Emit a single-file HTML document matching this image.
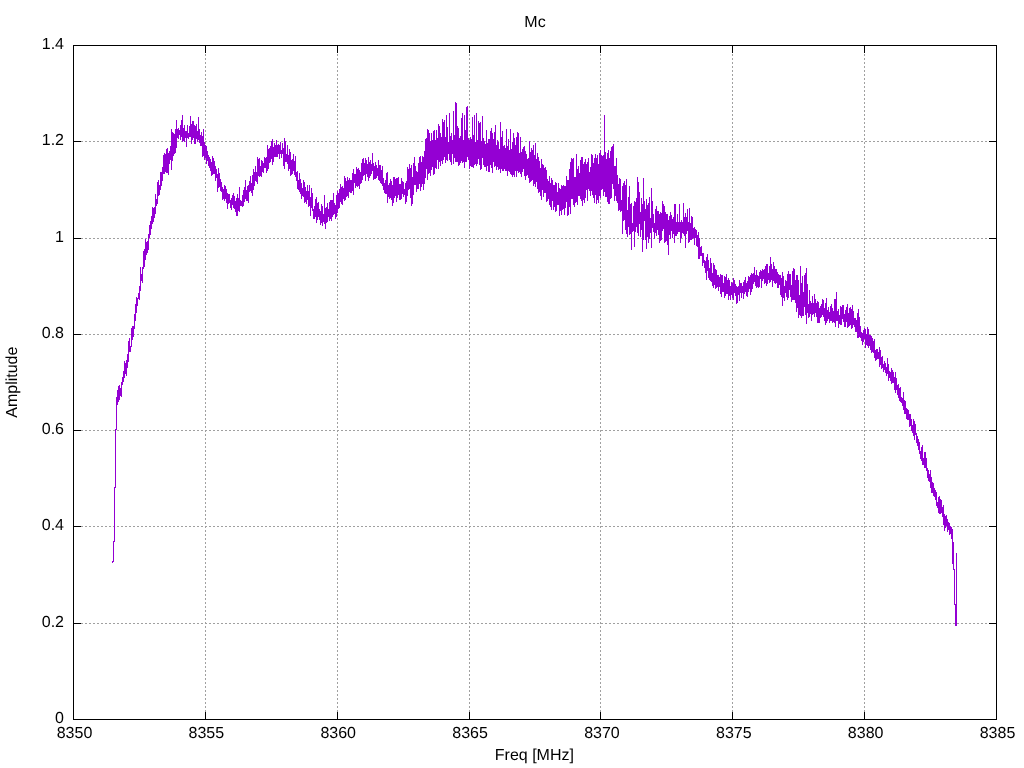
<!DOCTYPE html>
<html><head><meta charset="utf-8"><style>
html,body{margin:0;padding:0;background:#fff;}
svg{display:block;will-change:transform;}
text{font-family:"Liberation Sans",sans-serif;font-size:16px;fill:#000;text-rendering:geometricPrecision;}
.g{stroke:#a0a0a0;stroke-width:1;stroke-dasharray:2 2;}
.k{stroke:#000;stroke-width:1;}
</style></head><body>
<svg width="1024" height="768" viewBox="0 0 1024 768">
<line x1="205.5" y1="45" x2="205.5" y2="719" class="g" stroke-dashoffset="3"/>
<line x1="337.5" y1="45" x2="337.5" y2="719" class="g" stroke-dashoffset="3"/>
<line x1="469.5" y1="45" x2="469.5" y2="719" class="g" stroke-dashoffset="3"/>
<line x1="600.5" y1="45" x2="600.5" y2="719" class="g" stroke-dashoffset="3"/>
<line x1="732.5" y1="45" x2="732.5" y2="719" class="g" stroke-dashoffset="3"/>
<line x1="864.5" y1="45" x2="864.5" y2="719" class="g" stroke-dashoffset="3"/>
<line x1="73" y1="623.5" x2="996" y2="623.5" class="g"/>
<line x1="73" y1="526.5" x2="996" y2="526.5" class="g"/>
<line x1="73" y1="430.5" x2="996" y2="430.5" class="g"/>
<line x1="73" y1="334.5" x2="996" y2="334.5" class="g"/>
<line x1="73" y1="238.5" x2="996" y2="238.5" class="g"/>
<line x1="73" y1="141.5" x2="996" y2="141.5" class="g"/>
<line x1="205.5" y1="719" x2="205.5" y2="712" class="k"/>
<line x1="205.5" y1="45" x2="205.5" y2="53" class="k"/>
<line x1="337.5" y1="719" x2="337.5" y2="712" class="k"/>
<line x1="337.5" y1="45" x2="337.5" y2="53" class="k"/>
<line x1="469.5" y1="719" x2="469.5" y2="712" class="k"/>
<line x1="469.5" y1="45" x2="469.5" y2="53" class="k"/>
<line x1="600.5" y1="719" x2="600.5" y2="712" class="k"/>
<line x1="600.5" y1="45" x2="600.5" y2="53" class="k"/>
<line x1="732.5" y1="719" x2="732.5" y2="712" class="k"/>
<line x1="732.5" y1="45" x2="732.5" y2="53" class="k"/>
<line x1="864.5" y1="719" x2="864.5" y2="712" class="k"/>
<line x1="864.5" y1="45" x2="864.5" y2="53" class="k"/>
<line x1="73" y1="623.5" x2="81" y2="623.5" class="k"/>
<line x1="996" y1="623.5" x2="989" y2="623.5" class="k"/>
<line x1="73" y1="526.5" x2="81" y2="526.5" class="k"/>
<line x1="996" y1="526.5" x2="989" y2="526.5" class="k"/>
<line x1="73" y1="430.5" x2="81" y2="430.5" class="k"/>
<line x1="996" y1="430.5" x2="989" y2="430.5" class="k"/>
<line x1="73" y1="334.5" x2="81" y2="334.5" class="k"/>
<line x1="996" y1="334.5" x2="989" y2="334.5" class="k"/>
<line x1="73" y1="238.5" x2="81" y2="238.5" class="k"/>
<line x1="996" y1="238.5" x2="989" y2="238.5" class="k"/>
<line x1="73" y1="141.5" x2="81" y2="141.5" class="k"/>
<line x1="996" y1="141.5" x2="989" y2="141.5" class="k"/>
<rect x="73.5" y="45.5" width="923" height="674" class="k" fill="none"/>
<text x="64" y="723" text-anchor="end">0</text>
<text x="64" y="627" text-anchor="end">0.2</text>
<text x="64" y="530" text-anchor="end">0.4</text>
<text x="64" y="434" text-anchor="end">0.6</text>
<text x="64" y="338" text-anchor="end">0.8</text>
<text x="64" y="242" text-anchor="end">1</text>
<text x="64" y="145" text-anchor="end">1.2</text>
<text x="64" y="49" text-anchor="end">1.4</text>
<text x="74.5" y="738" text-anchor="middle">8350</text>
<text x="206.35714285714286" y="738" text-anchor="middle">8355</text>
<text x="338.2142857142857" y="738" text-anchor="middle">8360</text>
<text x="470.07142857142856" y="738" text-anchor="middle">8365</text>
<text x="601.9285714285714" y="738" text-anchor="middle">8370</text>
<text x="733.7857142857143" y="738" text-anchor="middle">8375</text>
<text x="865.6428571428571" y="738" text-anchor="middle">8380</text>
<text x="997.5" y="738" text-anchor="middle">8385</text>
<text x="535" y="27" text-anchor="middle">Mc</text>
<text x="534.4" y="760" text-anchor="middle">Freq [MHz]</text>
<text transform="translate(16.8,382.15) rotate(-90)" text-anchor="middle">Amplitude</text>
<path d="M112.50 563.0 112.50 561.0 113.50 561.0 113.50 541.0 114.50 541.0 114.50 487.0 115.50 487.0 115.50 429.0 116.50 429.0 116.50 397.0 117.00 401.5 117.17 405.4 117.33 397.6 117.50 394.8 117.67 390.5 117.83 395.4 118.00 402.2 118.17 398.8 118.33 401.6 118.50 397.8 118.67 398.4 118.83 397.3 119.00 385.8 119.17 400.2 119.33 398.6 119.50 398.4 119.67 385.9 119.83 385.6 120.00 390.7 120.17 392.4 120.33 395.7 120.50 393.2 120.67 395.0 120.83 387.8 121.00 392.4 121.17 392.0 121.33 385.0 121.50 396.8 121.67 390.4 121.83 392.7 122.00 381.8 122.17 380.1 122.33 381.8 122.50 382.4 122.67 385.0 122.83 382.1 123.00 377.1 123.17 373.0 123.33 374.6 123.50 381.9 123.67 371.0 123.83 375.6 124.00 375.2 124.17 365.1 124.33 373.2 124.50 378.1 124.67 361.3 124.83 370.5 125.00 371.5 125.17 367.2 125.33 373.7 125.50 371.0 125.67 362.7 125.83 374.4 126.00 373.5 126.17 374.5 126.33 376.4 126.50 371.6 126.67 369.3 126.83 359.6 127.00 369.1 127.17 361.2 127.33 361.0 127.50 354.3 127.67 355.0 127.83 356.6 128.00 365.5 128.17 344.3 128.33 347.3 128.50 356.8 128.67 360.9 128.83 355.9 129.00 341.7 129.17 337.6 129.33 351.5 129.50 345.4 129.67 342.9 129.83 351.5 130.00 351.5 130.17 347.5 130.33 347.3 130.50 347.5 130.67 351.5 130.83 347.2 131.00 346.3 131.17 345.9 131.33 334.5 131.50 346.9 131.67 344.5 131.83 341.8 132.00 328.4 132.17 334.4 132.33 339.7 132.50 326.4 132.67 333.6 132.83 337.1 133.00 325.8 133.17 337.0 133.33 332.1 133.50 328.3 133.67 329.1 133.83 329.1 134.00 326.1 134.17 328.7 134.33 320.2 134.50 320.3 134.67 325.0 134.83 319.9 135.00 313.7 135.17 320.3 135.33 320.9 135.50 311.1 135.67 304.2 135.83 309.8 136.00 308.1 136.17 306.3 136.33 313.1 136.50 300.0 136.67 310.6 136.83 296.6 137.00 298.5 137.17 305.0 137.33 306.2 137.50 304.0 137.67 300.8 137.83 299.0 138.00 298.2 138.17 299.2 138.33 294.8 138.50 296.2 138.67 296.6 138.83 293.3 139.00 295.8 139.17 294.1 139.33 299.5 139.50 291.4 139.67 286.6 139.83 285.9 140.00 287.0 140.17 290.1 140.33 283.0 140.50 285.6 140.67 290.9 140.83 266.6 141.00 274.1 141.17 280.8 141.33 280.4 141.50 278.7 141.67 274.1 141.83 278.4 142.00 275.7 142.17 270.4 142.33 282.9 142.50 273.0 142.67 267.2 142.83 269.0 143.00 267.3 143.17 267.3 143.33 250.6 143.50 262.9 143.67 269.3 143.83 257.0 144.00 262.6 144.17 266.2 144.33 264.9 144.50 266.7 144.67 249.2 144.83 256.3 145.00 255.4 145.17 259.3 145.33 260.4 145.50 238.8 145.67 258.6 145.83 244.4 146.00 255.0 146.17 242.3 146.33 251.0 146.50 254.5 146.67 247.6 146.83 248.4 147.00 250.1 147.17 246.4 147.33 244.3 147.50 250.6 147.67 247.7 147.83 240.6 148.00 253.4 148.17 233.9 148.33 243.8 148.50 237.4 148.67 238.7 148.83 240.4 149.00 237.5 149.17 238.4 149.33 225.8 149.50 225.0 149.67 235.8 149.83 226.6 150.00 225.3 150.17 221.6 150.33 234.8 150.50 231.5 150.67 233.6 150.83 220.6 151.00 225.1 151.17 217.3 151.33 226.4 151.50 228.9 151.67 215.7 151.83 227.0 152.00 224.0 152.17 218.1 152.33 206.8 152.50 224.0 152.67 216.8 152.83 213.2 153.00 217.9 153.17 217.4 153.33 221.5 153.50 208.4 153.67 218.8 153.83 219.7 154.00 219.0 154.17 211.0 154.33 207.1 154.50 215.2 154.67 210.7 154.83 210.0 155.00 215.0 155.17 206.6 155.33 193.9 155.50 204.6 155.67 195.2 155.83 209.1 156.00 206.3 156.17 200.5 156.33 203.1 156.50 205.7 156.67 201.5 156.83 205.9 157.00 198.8 157.17 202.7 157.33 203.6 157.50 203.2 157.67 191.2 157.83 198.0 158.00 182.1 158.17 186.2 158.33 180.3 158.50 196.1 158.67 183.3 158.83 190.0 159.00 188.3 159.17 188.7 159.33 184.6 159.50 188.7 159.67 195.3 159.83 186.5 160.00 188.2 160.17 189.8 160.33 183.2 160.50 176.0 160.67 179.7 160.83 187.8 161.00 171.6 161.17 177.5 161.33 185.7 161.50 184.0 161.67 179.5 161.83 182.9 162.00 179.0 162.17 169.9 162.33 166.8 162.50 172.1 162.67 180.5 162.83 171.3 163.00 168.5 163.17 168.7 163.33 163.0 163.50 171.7 163.67 164.3 163.83 173.6 164.00 155.4 164.17 172.6 164.33 166.1 164.50 156.7 164.67 173.6 164.83 167.3 165.00 153.2 165.17 162.2 165.33 169.5 165.50 164.3 165.67 171.5 165.83 170.9 166.00 170.0 166.17 167.7 166.33 173.0 166.50 168.8 166.67 167.2 166.83 148.7 167.00 168.9 167.17 170.9 167.33 160.7 167.50 158.9 167.67 173.4 167.83 148.2 168.00 164.0 168.17 175.1 168.33 153.2 168.50 164.1 168.67 170.8 168.83 158.2 169.00 162.1 169.17 163.7 169.33 150.7 169.50 156.8 169.67 158.9 169.83 161.7 170.00 156.0 170.17 154.2 170.33 147.0 170.50 152.0 170.67 160.1 170.83 154.8 171.00 146.6 171.17 146.2 171.33 169.5 171.50 159.6 171.67 156.1 171.83 129.3 172.00 155.2 172.17 153.7 172.33 160.7 172.50 152.3 172.67 148.5 172.83 151.8 173.00 131.6 173.17 153.8 173.33 148.9 173.50 140.6 173.67 153.8 173.83 156.1 174.00 133.3 174.17 138.8 174.33 145.4 174.50 144.2 174.67 139.4 174.83 134.3 175.00 153.7 175.17 146.9 175.33 131.1 175.50 129.4 175.67 148.9 175.83 144.3 176.00 148.4 176.17 142.2 176.33 130.5 176.50 138.1 176.67 119.9 176.83 130.0 177.00 134.6 177.17 137.8 177.33 129.5 177.50 133.9 177.67 137.3 177.83 136.8 178.00 138.1 178.17 135.7 178.33 132.2 178.50 138.8 178.67 134.7 178.83 128.4 179.00 129.8 179.17 134.3 179.33 133.4 179.50 135.0 179.67 134.1 179.83 135.0 180.00 133.0 180.17 125.0 180.33 136.2 180.50 139.5 180.67 136.1 180.83 132.4 181.00 136.1 181.17 126.9 181.33 120.4 181.50 133.8 181.67 127.0 181.83 137.4 182.00 125.9 182.17 115.3 182.33 126.1 182.50 141.7 182.67 130.5 182.83 123.8 183.00 127.8 183.17 135.8 183.33 135.6 183.50 133.8 183.67 140.8 183.83 136.5 184.00 132.5 184.17 135.8 184.33 141.5 184.50 137.7 184.67 138.1 184.83 125.4 185.00 131.6 185.17 136.5 185.33 130.7 185.50 138.4 185.67 135.9 185.83 137.6 186.00 131.3 186.17 146.5 186.33 139.5 186.50 131.4 186.67 133.3 186.83 146.9 187.00 130.6 187.17 137.6 187.33 138.2 187.50 133.0 187.67 125.1 187.83 134.0 188.00 135.0 188.17 139.2 188.33 137.3 188.50 133.3 188.67 137.8 188.83 136.1 189.00 134.3 189.17 133.5 189.33 131.6 189.50 137.0 189.67 126.1 189.83 129.1 190.00 133.4 190.17 123.4 190.33 130.4 190.50 119.7 190.67 128.8 190.83 136.6 191.00 136.7 191.17 133.3 191.33 132.2 191.50 124.0 191.67 144.0 191.83 136.9 192.00 140.2 192.17 128.0 192.33 133.0 192.50 121.3 192.67 138.9 192.83 139.8 193.00 120.9 193.17 134.4 193.33 138.4 193.50 122.0 193.67 121.5 193.83 127.2 194.00 130.5 194.17 124.8 194.33 135.6 194.50 136.9 194.67 139.2 194.83 139.7 195.00 144.4 195.17 142.5 195.33 125.8 195.50 132.1 195.67 127.9 195.83 127.8 196.00 135.7 196.17 136.5 196.33 139.4 196.50 124.0 196.67 126.8 196.83 136.6 197.00 135.3 197.17 134.6 197.33 136.8 197.50 131.5 197.67 141.8 197.83 140.0 198.00 137.5 198.17 133.1 198.33 137.2 198.50 117.3 198.67 131.3 198.83 139.5 199.00 127.7 199.17 140.8 199.33 140.7 199.50 129.4 199.67 138.4 199.83 138.1 200.00 143.4 200.17 144.4 200.33 140.9 200.50 134.9 200.67 140.5 200.83 141.4 201.00 146.2 201.17 143.9 201.33 137.0 201.50 132.4 201.67 140.1 201.83 137.6 202.00 135.0 202.17 142.7 202.33 140.1 202.50 144.6 202.67 147.1 202.83 141.4 203.00 157.3 203.17 142.5 203.33 151.2 203.50 146.3 203.67 152.1 203.83 129.3 204.00 141.6 204.17 148.7 204.33 151.0 204.50 160.4 204.67 150.4 204.83 155.7 205.00 153.6 205.17 154.9 205.33 153.1 205.50 150.0 205.67 154.0 205.83 144.7 206.00 158.1 206.17 146.1 206.33 154.5 206.50 163.8 206.67 152.7 206.83 154.7 207.00 160.5 207.17 155.6 207.33 150.9 207.50 157.6 207.67 159.5 207.83 160.5 208.00 153.0 208.17 165.9 208.33 165.9 208.50 159.1 208.67 160.7 208.83 157.4 209.00 166.4 209.17 156.8 209.33 164.1 209.50 159.0 209.67 158.1 209.83 165.4 210.00 168.3 210.17 162.9 210.33 159.3 210.50 167.0 210.67 163.6 210.83 165.5 211.00 171.1 211.17 169.7 211.33 161.9 211.50 175.5 211.67 165.7 211.83 169.5 212.00 162.2 212.17 166.3 212.33 155.9 212.50 175.3 212.67 173.7 212.83 160.0 213.00 158.4 213.17 157.9 213.33 174.2 213.50 166.0 213.67 168.9 213.83 167.5 214.00 169.1 214.17 163.0 214.33 170.6 214.50 161.1 214.67 170.6 214.83 172.9 215.00 174.0 215.17 170.4 215.33 166.1 215.50 173.3 215.67 169.5 215.83 181.1 216.00 177.5 216.17 173.4 216.33 171.4 216.50 170.4 216.67 169.3 216.83 173.7 217.00 177.9 217.17 179.4 217.33 180.1 217.50 187.8 217.67 173.8 217.83 178.9 218.00 192.3 218.17 167.9 218.33 176.9 218.50 181.5 218.67 181.9 218.83 183.5 219.00 180.6 219.17 184.2 219.33 183.3 219.50 186.9 219.67 172.6 219.83 179.2 220.00 184.9 220.17 179.3 220.33 179.7 220.50 188.9 220.67 183.0 220.83 189.9 221.00 190.8 221.17 189.4 221.33 190.7 221.50 188.5 221.67 181.8 221.83 189.9 222.00 192.3 222.17 187.9 222.33 190.5 222.50 194.3 222.67 186.8 222.83 194.4 223.00 199.5 223.17 189.3 223.33 193.2 223.50 192.1 223.67 199.3 223.83 194.7 224.00 197.3 224.17 190.2 224.33 194.1 224.50 194.4 224.67 185.1 224.83 200.7 225.00 198.9 225.17 186.0 225.33 198.8 225.50 195.4 225.67 198.1 225.83 198.1 226.00 188.7 226.17 196.0 226.33 203.3 226.50 194.6 226.67 192.4 226.83 190.8 227.00 191.9 227.17 200.1 227.33 205.7 227.50 201.0 227.67 200.5 227.83 208.7 228.00 197.3 228.17 196.7 228.33 202.6 228.50 202.8 228.67 195.2 228.83 194.5 229.00 202.1 229.17 202.0 229.33 194.1 229.50 200.1 229.67 198.4 229.83 203.4 230.00 200.9 230.17 201.1 230.33 199.8 230.50 206.5 230.67 208.1 230.83 200.0 231.00 205.9 231.17 198.2 231.33 202.6 231.50 205.9 231.67 209.6 231.83 200.5 232.00 202.2 232.17 203.6 232.33 195.1 232.50 203.0 232.67 199.5 232.83 204.9 233.00 197.4 233.17 193.3 233.33 203.5 233.50 204.8 233.67 200.8 233.83 208.3 234.00 202.4 234.17 200.8 234.33 206.5 234.50 196.2 234.67 200.6 234.83 203.9 235.00 208.5 235.17 203.2 235.33 205.6 235.50 200.8 235.67 205.5 235.83 212.3 236.00 200.6 236.17 215.6 236.33 200.8 236.50 204.1 236.67 204.8 236.83 208.8 237.00 197.9 237.17 193.6 237.33 206.8 237.50 207.6 237.67 206.8 237.83 215.7 238.00 204.9 238.17 205.1 238.33 208.0 238.50 205.6 238.67 211.0 238.83 197.9 239.00 202.1 239.17 186.9 239.33 207.3 239.50 202.2 239.67 207.6 239.83 212.3 240.00 204.0 240.17 202.7 240.33 201.5 240.50 199.9 240.67 200.9 240.83 206.2 241.00 203.7 241.17 203.5 241.33 202.0 241.50 206.1 241.67 204.2 241.83 201.2 242.00 204.3 242.17 200.6 242.33 194.7 242.50 206.8 242.67 202.4 242.83 194.6 243.00 204.4 243.17 201.0 243.33 189.9 243.50 206.0 243.67 200.1 243.83 202.3 244.00 198.9 244.17 196.8 244.33 187.5 244.50 201.6 244.67 196.9 244.83 194.6 245.00 197.9 245.17 196.3 245.33 198.9 245.50 192.7 245.67 194.7 245.83 179.8 246.00 191.4 246.17 197.5 246.33 200.7 246.50 190.8 246.67 192.2 246.83 201.3 247.00 190.1 247.17 196.2 247.33 201.0 247.50 192.0 247.67 198.1 247.83 186.0 248.00 192.1 248.17 190.2 248.33 191.1 248.50 196.2 248.67 202.6 248.83 184.9 249.00 185.3 249.17 191.8 249.33 181.3 249.50 191.3 249.67 191.4 249.83 186.2 250.00 190.7 250.17 176.6 250.33 191.4 250.50 176.1 250.67 182.0 250.83 182.7 251.00 183.6 251.17 190.6 251.33 186.3 251.50 182.9 251.67 188.2 251.83 193.3 252.00 184.9 252.17 186.5 252.33 190.7 252.50 185.5 252.67 174.9 252.83 196.2 253.00 194.5 253.17 169.4 253.33 182.6 253.50 184.6 253.67 187.0 253.83 185.2 254.00 179.6 254.17 173.9 254.33 181.4 254.50 185.7 254.67 172.7 254.83 172.8 255.00 179.4 255.17 165.9 255.33 177.1 255.50 175.5 255.67 180.5 255.83 173.1 256.00 171.5 256.17 174.5 256.33 176.6 256.50 172.0 256.67 176.3 256.83 179.6 257.00 181.5 257.17 183.7 257.33 169.5 257.50 171.7 257.67 157.3 257.83 183.4 258.00 168.6 258.17 173.0 258.33 175.5 258.50 163.3 258.67 174.6 258.83 171.8 259.00 159.2 259.17 172.7 259.33 176.9 259.50 157.9 259.67 174.4 259.83 171.3 260.00 172.4 260.17 172.1 260.33 176.1 260.50 168.0 260.67 173.6 260.83 166.4 261.00 172.5 261.17 163.4 261.33 167.9 261.50 176.7 261.67 170.4 261.83 167.0 262.00 160.4 262.17 162.5 262.33 168.4 262.50 171.8 262.67 169.2 262.83 169.4 263.00 166.5 263.17 172.9 263.33 163.9 263.50 162.7 263.67 170.2 263.83 166.2 264.00 163.9 264.17 161.8 264.33 163.7 264.50 168.0 264.67 166.6 264.83 157.2 265.00 166.5 265.17 165.2 265.33 158.0 265.50 167.5 265.67 162.1 265.83 161.5 266.00 166.9 266.17 169.0 266.33 158.5 266.50 164.5 266.67 156.8 266.83 172.5 267.00 158.6 267.17 166.8 267.33 157.1 267.50 164.5 267.67 170.8 267.83 145.0 268.00 157.3 268.17 162.0 268.33 158.8 268.50 155.1 268.67 169.0 268.83 158.8 269.00 148.6 269.17 162.0 269.33 147.6 269.50 162.9 269.67 153.7 269.83 157.4 270.00 162.6 270.17 156.7 270.33 148.0 270.50 146.0 270.67 161.1 270.83 158.7 271.00 150.1 271.17 158.7 271.33 156.6 271.50 157.1 271.67 141.1 271.83 151.6 272.00 157.5 272.17 156.6 272.33 157.3 272.50 139.3 272.67 153.6 272.83 155.2 273.00 165.4 273.17 147.3 273.33 150.7 273.50 152.6 273.67 156.8 273.83 149.9 274.00 158.0 274.17 147.9 274.33 153.4 274.50 149.2 274.67 152.8 274.83 148.2 275.00 143.2 275.17 157.3 275.33 153.2 275.50 148.6 275.67 152.6 275.83 156.5 276.00 146.2 276.17 150.8 276.33 154.0 276.50 153.9 276.67 149.4 276.83 139.8 277.00 157.3 277.17 152.7 277.33 151.0 277.50 149.4 277.67 152.2 277.83 148.5 278.00 145.2 278.17 146.7 278.33 147.5 278.50 147.5 278.67 144.6 278.83 154.2 279.00 144.0 279.17 154.6 279.33 145.8 279.50 153.4 279.67 158.6 279.83 152.9 280.00 147.8 280.17 152.4 280.33 153.0 280.50 142.2 280.67 149.0 280.83 153.5 281.00 150.0 281.17 153.4 281.33 156.7 281.50 157.0 281.67 157.8 281.83 156.4 282.00 151.8 282.17 153.6 282.33 152.2 282.50 152.0 282.67 153.0 282.83 143.2 283.00 152.3 283.17 154.4 283.33 148.3 283.50 154.7 283.67 157.5 283.83 154.0 284.00 165.5 284.17 137.8 284.33 154.1 284.50 143.2 284.67 160.7 284.83 169.1 285.00 139.4 285.17 157.1 285.33 159.2 285.50 154.9 285.67 159.8 285.83 142.4 286.00 161.7 286.17 159.6 286.33 158.1 286.50 154.3 286.67 161.5 286.83 155.5 287.00 159.9 287.17 155.8 287.33 144.6 287.50 159.3 287.67 160.7 287.83 163.5 288.00 154.5 288.17 160.2 288.33 163.5 288.50 161.5 288.67 166.8 288.83 170.5 289.00 155.7 289.17 149.5 289.33 165.9 289.50 169.1 289.67 166.6 289.83 166.3 290.00 158.9 290.17 158.5 290.33 167.2 290.50 157.8 290.67 152.4 290.83 157.7 291.00 175.6 291.17 173.5 291.33 160.5 291.50 160.5 291.67 166.7 291.83 161.0 292.00 172.6 292.17 166.1 292.33 159.5 292.50 173.8 292.67 163.5 292.83 169.0 293.00 168.2 293.17 166.3 293.33 170.6 293.50 164.2 293.67 156.0 293.83 153.6 294.00 160.8 294.17 164.9 294.33 170.7 294.50 171.6 294.67 174.7 294.83 172.6 295.00 166.0 295.17 167.0 295.33 156.0 295.50 171.9 295.67 176.5 295.83 177.1 296.00 173.2 296.17 173.1 296.33 180.6 296.50 175.3 296.67 180.2 296.83 179.6 297.00 177.6 297.17 184.9 297.33 172.3 297.50 174.7 297.67 171.4 297.83 172.0 298.00 188.5 298.17 190.1 298.33 180.3 298.50 183.9 298.67 187.9 298.83 186.2 299.00 189.0 299.17 172.8 299.33 178.1 299.50 186.1 299.67 191.9 299.83 185.1 300.00 178.6 300.17 182.7 300.33 180.7 300.50 179.5 300.67 194.2 300.83 181.8 301.00 186.8 301.17 198.5 301.33 193.6 301.50 189.3 301.67 183.4 301.83 190.3 302.00 196.9 302.17 192.0 302.33 195.6 302.50 189.8 302.67 192.2 302.83 188.4 303.00 192.3 303.17 197.1 303.33 180.5 303.50 190.5 303.67 192.5 303.83 187.5 304.00 189.6 304.17 196.1 304.33 202.6 304.50 195.8 304.67 194.6 304.83 182.4 305.00 203.2 305.17 194.2 305.33 193.8 305.50 186.7 305.67 194.2 305.83 187.4 306.00 195.6 306.17 197.8 306.33 195.9 306.50 197.5 306.67 190.6 306.83 203.9 307.00 192.6 307.17 184.8 307.33 196.4 307.50 192.7 307.67 191.3 307.83 196.2 308.00 200.4 308.17 191.0 308.33 198.6 308.50 207.2 308.67 203.7 308.83 199.5 309.00 201.5 309.17 200.3 309.33 201.1 309.50 205.6 309.67 201.5 309.83 185.2 310.00 202.6 310.17 196.7 310.33 206.8 310.50 199.3 310.67 204.8 310.83 215.8 311.00 197.0 311.17 196.8 311.33 195.0 311.50 188.1 311.67 192.1 311.83 208.2 312.00 201.8 312.17 193.1 312.33 196.2 312.50 210.8 312.67 201.9 312.83 205.1 313.00 209.8 313.17 215.5 313.33 218.8 313.50 214.0 313.67 209.4 313.83 209.8 314.00 218.7 314.17 216.8 314.33 207.0 314.50 211.9 314.67 211.1 314.83 210.0 315.00 206.2 315.17 200.2 315.33 206.3 315.50 198.9 315.67 217.1 315.83 213.6 316.00 201.9 316.17 218.6 316.33 216.0 316.50 197.2 316.67 221.4 316.83 216.0 317.00 223.0 317.17 202.8 317.33 215.0 317.50 214.6 317.67 213.6 317.83 213.5 318.00 218.5 318.17 201.8 318.33 203.9 318.50 202.9 318.67 209.3 318.83 209.1 319.00 215.8 319.17 215.5 319.33 214.4 319.50 209.3 319.67 211.2 319.83 220.2 320.00 219.4 320.17 215.8 320.33 212.9 320.50 224.6 320.67 211.1 320.83 219.9 321.00 223.1 321.17 214.3 321.33 221.6 321.50 207.7 321.67 223.2 321.83 218.5 322.00 204.2 322.17 221.8 322.33 210.4 322.50 226.1 322.67 212.5 322.83 217.1 323.00 220.5 323.17 215.7 323.33 220.0 323.50 213.6 323.67 222.2 323.83 217.9 324.00 219.0 324.17 195.2 324.33 224.2 324.50 217.4 324.67 202.9 324.83 217.5 325.00 219.4 325.17 222.6 325.33 208.1 325.50 224.8 325.67 214.9 325.83 228.8 326.00 214.7 326.17 219.2 326.33 212.8 326.50 207.3 326.67 220.7 326.83 219.5 327.00 222.5 327.17 218.8 327.33 210.5 327.50 203.1 327.67 209.8 327.83 209.5 328.00 208.3 328.17 216.8 328.33 215.4 328.50 211.7 328.67 214.4 328.83 212.4 329.00 214.5 329.17 217.3 329.33 218.3 329.50 207.9 329.67 201.6 329.83 220.7 330.00 213.4 330.17 218.9 330.33 199.7 330.50 209.9 330.67 212.5 330.83 200.7 331.00 208.0 331.17 216.3 331.33 218.4 331.50 221.4 331.67 204.6 331.83 199.9 332.00 214.8 332.17 217.3 332.33 212.6 332.50 200.0 332.67 215.9 332.83 215.7 333.00 214.0 333.17 206.0 333.33 211.9 333.50 214.7 333.67 204.7 333.83 193.3 334.00 211.1 334.17 211.8 334.33 208.6 334.50 213.9 334.67 202.9 334.83 207.0 335.00 204.9 335.17 210.8 335.33 217.1 335.50 204.6 335.67 219.4 335.83 215.9 336.00 211.0 336.17 209.4 336.33 216.7 336.50 203.7 336.67 204.0 336.83 195.5 337.00 207.5 337.17 212.7 337.33 207.4 337.50 206.4 337.67 201.8 337.83 204.4 338.00 191.0 338.17 209.3 338.33 199.2 338.50 193.2 338.67 196.0 338.83 195.2 339.00 206.9 339.17 207.9 339.33 190.3 339.50 206.6 339.67 206.1 339.83 196.1 340.00 188.7 340.17 194.4 340.33 195.1 340.50 201.8 340.67 196.9 340.83 183.9 341.00 200.5 341.17 187.4 341.33 203.7 341.50 189.5 341.67 193.2 341.83 191.8 342.00 193.9 342.17 204.6 342.33 201.9 342.50 200.4 342.67 198.7 342.83 185.9 343.00 192.9 343.17 192.5 343.33 189.4 343.50 198.5 343.67 190.7 343.83 190.7 344.00 188.2 344.17 181.1 344.33 197.7 344.50 201.0 344.67 195.1 344.83 187.5 345.00 175.7 345.17 194.3 345.33 199.1 345.50 194.4 345.67 197.2 345.83 199.6 346.00 197.6 346.17 189.1 346.33 196.8 346.50 195.2 346.67 181.2 346.83 188.4 347.00 181.5 347.17 189.8 347.33 193.0 347.50 183.1 347.67 176.6 347.83 195.5 348.00 191.0 348.17 195.8 348.33 180.3 348.50 193.4 348.67 197.8 348.83 197.2 349.00 186.4 349.17 188.7 349.33 186.3 349.50 191.5 349.67 191.4 349.83 186.9 350.00 177.8 350.17 189.4 350.33 182.9 350.50 188.5 350.67 186.6 350.83 192.8 351.00 190.3 351.17 181.8 351.33 186.2 351.50 192.8 351.67 180.5 351.83 186.0 352.00 189.5 352.17 189.7 352.33 185.8 352.50 173.9 352.67 174.0 352.83 183.8 353.00 184.3 353.17 195.3 353.33 175.7 353.50 187.7 353.67 185.6 353.83 169.0 354.00 175.0 354.17 181.7 354.33 176.9 354.50 179.2 354.67 182.8 354.83 173.8 355.00 182.4 355.17 174.6 355.33 175.1 355.50 182.2 355.67 174.4 355.83 180.3 356.00 187.7 356.17 178.4 356.33 176.9 356.50 182.2 356.67 174.8 356.83 183.9 357.00 167.2 357.17 180.9 357.33 173.1 357.50 170.7 357.67 187.0 357.83 170.0 358.00 186.6 358.17 180.2 358.33 184.5 358.50 168.5 358.67 182.8 358.83 184.1 359.00 174.7 359.17 174.5 359.33 189.2 359.50 176.2 359.67 171.8 359.83 170.1 360.00 177.2 360.17 176.4 360.33 175.4 360.50 183.8 360.67 171.7 360.83 176.6 361.00 181.9 361.17 166.1 361.33 179.2 361.50 183.4 361.67 163.1 361.83 164.9 362.00 165.2 362.17 159.0 362.33 175.1 362.50 158.7 362.67 175.1 362.83 180.1 363.00 160.5 363.17 169.9 363.33 158.2 363.50 176.2 363.67 166.7 363.83 170.1 364.00 172.2 364.17 174.6 364.33 169.3 364.50 171.8 364.67 167.8 364.83 172.1 365.00 163.4 365.17 171.8 365.33 158.1 365.50 168.0 365.67 180.7 365.83 171.6 366.00 162.6 366.17 172.3 366.33 164.5 366.50 159.9 366.67 166.0 366.83 174.3 367.00 172.5 367.17 170.0 367.33 164.6 367.50 163.6 367.67 176.7 367.83 171.5 368.00 164.3 368.17 156.9 368.33 161.6 368.50 181.3 368.67 162.9 368.83 169.6 369.00 171.1 369.17 169.2 369.33 168.5 369.50 161.6 369.67 163.7 369.83 178.3 370.00 165.6 370.17 174.5 370.33 159.6 370.50 168.9 370.67 172.0 370.83 175.8 371.00 163.5 371.17 173.9 371.33 172.9 371.50 166.1 371.67 173.5 371.83 165.1 372.00 165.9 372.17 171.2 372.33 152.7 372.50 170.7 372.67 164.6 372.83 161.4 373.00 168.7 373.17 175.7 373.33 169.0 373.50 178.5 373.67 163.7 373.83 162.6 374.00 180.3 374.17 174.3 374.33 177.2 374.50 166.2 374.67 176.7 374.83 173.8 375.00 176.0 375.17 172.8 375.33 179.2 375.50 168.1 375.67 166.0 375.83 162.4 376.00 179.4 376.17 168.1 376.33 166.0 376.50 166.9 376.67 170.6 376.83 164.9 377.00 172.0 377.17 169.8 377.33 170.5 377.50 167.8 377.67 174.8 377.83 171.6 378.00 175.5 378.17 176.3 378.33 176.9 378.50 160.3 378.67 171.8 378.83 170.1 379.00 179.5 379.17 165.2 379.33 171.2 379.50 174.1 379.67 174.0 379.83 181.2 380.00 173.6 380.17 181.3 380.33 167.1 380.50 165.0 380.67 182.8 380.83 179.2 381.00 179.6 381.17 178.0 381.33 179.9 381.50 170.1 381.67 182.7 381.83 175.1 382.00 183.5 382.17 179.5 382.33 166.4 382.50 171.2 382.67 185.5 382.83 179.4 383.00 177.9 383.17 182.1 383.33 178.3 383.50 177.8 383.67 182.3 383.83 182.8 384.00 189.9 384.17 182.9 384.33 192.4 384.50 192.3 384.67 192.2 384.83 189.2 385.00 184.8 385.17 185.1 385.33 183.7 385.50 179.8 385.67 184.8 385.83 181.0 386.00 194.4 386.17 189.0 386.33 183.2 386.50 172.8 386.67 186.6 386.83 184.3 387.00 179.6 387.17 179.5 387.33 171.6 387.50 191.6 387.67 188.1 387.83 202.7 388.00 188.5 388.17 187.8 388.33 196.8 388.50 189.8 388.67 190.1 388.83 186.4 389.00 184.8 389.17 197.7 389.33 195.0 389.50 199.1 389.67 187.1 389.83 190.0 390.00 183.2 390.17 195.4 390.33 179.4 390.50 193.3 390.67 196.4 390.83 198.3 391.00 183.2 391.17 196.7 391.33 185.1 391.50 184.9 391.67 180.6 391.83 197.5 392.00 200.3 392.17 186.5 392.33 185.3 392.50 188.6 392.67 205.7 392.83 197.2 393.00 187.3 393.17 177.5 393.33 186.5 393.50 198.7 393.67 202.7 393.83 189.9 394.00 186.6 394.17 188.0 394.33 177.2 394.50 197.2 394.67 183.6 394.83 198.0 395.00 178.8 395.17 182.2 395.33 193.6 395.50 186.2 395.67 196.3 395.83 192.0 396.00 183.1 396.17 195.4 396.33 196.6 396.50 177.7 396.67 201.9 396.83 194.7 397.00 196.1 397.17 178.3 397.33 186.7 397.50 189.4 397.67 197.7 397.83 181.4 398.00 185.6 398.17 177.3 398.33 190.3 398.50 193.8 398.67 180.0 398.83 187.8 399.00 194.6 399.17 200.1 399.33 195.4 399.50 189.9 399.67 183.8 399.83 185.5 400.00 187.4 400.17 192.6 400.33 191.4 400.50 200.1 400.67 193.0 400.83 183.9 401.00 199.2 401.17 196.0 401.33 191.6 401.50 185.8 401.67 177.6 401.83 183.4 402.00 195.3 402.17 184.7 402.33 180.9 402.50 191.2 402.67 191.3 402.83 193.1 403.00 193.3 403.17 197.1 403.33 183.6 403.50 194.6 403.67 182.2 403.83 192.9 404.00 190.1 404.17 190.3 404.33 194.0 404.50 188.6 404.67 194.5 404.83 193.2 405.00 189.1 405.17 184.1 405.33 182.6 405.50 184.2 405.67 186.4 405.83 187.6 406.00 203.7 406.17 191.0 406.33 191.6 406.50 180.8 406.67 181.8 406.83 184.6 407.00 188.1 407.17 178.7 407.33 196.1 407.50 182.1 407.67 192.9 407.83 167.2 408.00 186.3 408.17 187.9 408.33 187.3 408.50 189.7 408.67 187.6 408.83 186.8 409.00 168.9 409.17 179.1 409.33 164.3 409.50 189.4 409.67 187.2 409.83 183.3 410.00 177.3 410.17 179.3 410.33 197.5 410.50 196.7 410.67 183.9 410.83 193.5 411.00 168.6 411.17 164.9 411.33 179.2 411.50 175.1 411.67 178.1 411.83 185.1 412.00 206.4 412.17 176.6 412.33 183.7 412.50 185.4 412.67 182.7 412.83 190.1 413.00 196.5 413.17 169.5 413.33 183.6 413.50 179.4 413.67 184.7 413.83 166.0 414.00 163.6 414.17 157.8 414.33 185.3 414.50 182.5 414.67 181.4 414.83 157.0 415.00 176.7 415.17 172.8 415.33 166.1 415.50 170.9 415.67 185.2 415.83 183.8 416.00 179.1 416.17 183.2 416.33 173.2 416.50 179.3 416.67 178.9 416.83 182.8M416.5 171V192M417.5 172V189M418.5 163V189M419.5 157V184M420.5 156V191M421.5 162V187M422.5 156V184M423.5 157V190M424.5 151V184M425.5 139V178M426.5 138V169M427.5 129V180M428.5 130V174M429.5 133V173M430.5 141V176M431.5 133V170M432.5 140V167M433.5 131V175M434.5 130V174M435.5 140V168M436.5 130V169M437.5 138V160M438.5 124V169M439.5 126V162M440.5 133V166M441.5 137V161M442.5 119V164M443.5 122V160M444.5 120V157M445.5 137V163M446.5 115V160M447.5 127V161M448.5 142V154M449.5 113V160M450.5 136V162M451.5 133V165M452.5 140V154M453.5 111V164M454.5 135V158M455.5 102V162M456.5 103V162M457.5 126V162M458.5 128V166M459.5 138V165M460.5 136V163M461.5 118V161M462.5 113V163M463.5 140V162M464.5 115V168M465.5 130V162M466.5 107V162M467.5 106V157M468.5 138V160M469.5 140V169M470.5 137V166M471.5 139V167M472.5 117V167M473.5 135V168M474.5 115V165M475.5 142V164M476.5 113V166M477.5 140V164M478.5 121V159M479.5 123V165M480.5 122V170M481.5 141V169M482.5 116V158M483.5 138V165M484.5 141V167M485.5 144V167M486.5 130V171M487.5 143V166M488.5 139V172M489.5 139V172M490.5 131V165M491.5 128V168M492.5 133V173M493.5 139V162M494.5 132V167M495.5 125V166M496.5 145V170M497.5 140V167M498.5 142V170M499.5 149V169M500.5 122V173M501.5 137V169M502.5 131V171M503.5 146V171M504.5 145V169M505.5 148V171M506.5 129V171M507.5 146V176M508.5 139V171M509.5 150V172M510.5 129V174M511.5 149V175M512.5 142V177M513.5 133V175M514.5 138V177M515.5 145V171M516.5 137V177M517.5 132V171M518.5 133V173M519.5 153V172M520.5 137V174M521.5 152V177M522.5 149V172M523.5 147V169M524.5 146V176M525.5 151V180M526.5 154V176M527.5 159V175M528.5 158V178M529.5 141V183M530.5 152V182M531.5 148V181M532.5 150V180M533.5 145V186M534.5 155V184M535.5 143V187M536.5 159V182M537.5 153V189M538.5 157V193M539.5 161V192M540.5 168V196M541.5 159V200M542.5 164V190M543.5 165V197M544.5 168V193M545.5 167V193M546.5 170V202M547.5 179V201M548.5 181V199M549.5 176V205M550.5 183V207M551.5 178V210M552.5 180V201M553.5 185V210M554.5 185V207M555.5 182V212M556.5 183V211M557.5 192V205M558.5 183V205M559.5 188V216M560.5 189V211M561.5 185V215M562.5 186V210M563.5 185V209M564.5 186V215M565.5 186V208M566.5 176V202M567.5 180V216M568.5 180V215M569.5 169V207M570.5 162V214M571.5 158V199M572.5 159V199M573.5 158V205M574.5 177V207M575.5 177V203M576.5 154V202M577.5 169V205M578.5 166V196M579.5 173V196M580.5 160V199M581.5 157V201M582.5 157V206M583.5 164V200M584.5 162V203M585.5 159V198M586.5 164V190M587.5 162V201M588.5 158V189M589.5 172V191M590.5 167V196M591.5 154V191M592.5 155V195M593.5 163V198M594.5 158V203M595.5 154V195M596.5 158V204M597.5 155V200M598.5 164V203M599.5 153V196M600.5 150V198M601.5 155V190M602.5 156V189M603.5 155V196M604.5 157V192M605.5 152V197M606.5 159V197M607.5 153V202M608.5 150V204M609.5 158V204M610.5 151V199M611.5 147V198M612.5 146V184M613.5 144V189M614.5 166V201M615.5 166V196M616.5 158V201M617.5 175V203M618.5 184V211M619.5 178V205M619.00 207.0 619.17 205.3 619.33 208.7 619.50 202.3 619.67 180.8 619.83 208.9 620.00 209.6 620.17 203.1 620.33 179.3 620.50 210.7 620.67 212.2 620.83 194.7 621.00 201.2 621.17 207.6 621.33 199.7 621.50 211.3 621.67 202.0 621.83 208.1 622.00 202.6 622.17 186.2 622.33 191.6 622.50 233.5 622.67 205.6 622.83 216.1 623.00 214.7 623.17 220.8 623.33 209.6 623.50 197.7 623.67 204.8 623.83 183.2 624.00 203.0 624.17 214.7 624.33 180.9 624.50 208.0 624.67 214.8 624.83 220.4 625.00 196.0 625.17 199.5 625.33 185.2 625.50 195.6 625.67 213.7 625.83 230.3 626.00 194.7 626.17 223.6 626.33 213.7 626.50 203.4 626.67 233.5 626.83 178.8 627.00 209.5 627.17 213.0 627.33 234.3 627.50 231.0 627.67 236.6 627.83 213.2 628.00 223.0 628.17 227.4 628.33 218.0 628.50 216.4 628.67 210.1 628.83 207.3 629.00 196.7 629.17 234.8 629.33 207.1 629.50 185.6 629.67 216.3 629.83 213.0 630.00 215.5 630.17 234.1 630.33 212.4 630.50 210.3 630.67 203.9 630.83 213.9 631.00 208.3 631.17 216.8 631.33 249.9 631.50 219.2 631.67 203.0 631.83 236.9 632.00 224.9 632.17 224.5 632.33 223.5 632.50 224.8 632.67 223.3 632.83 231.8 633.00 227.3 633.17 231.4 633.33 208.9 633.50 216.2 633.67 205.9 633.83 227.4 634.00 226.1 634.17 210.0 634.33 223.6 634.50 247.1 634.67 231.3 634.83 200.8 635.00 216.0 635.17 224.8 635.33 217.1 635.50 222.2 635.67 231.5 635.83 221.8 636.00 201.7 636.17 226.5 636.33 217.0 636.50 219.9 636.67 210.1 636.83 197.7 637.00 199.8 637.17 213.7 637.33 202.7 637.50 177.3 637.67 232.8 637.83 201.5 638.00 208.4 638.17 225.9 638.33 182.3 638.50 235.5 638.67 208.0 638.83 227.8 639.00 212.7 639.17 223.8 639.33 221.6 639.50 220.4 639.67 191.9 639.83 197.5 640.00 220.1 640.17 237.3 640.33 212.3 640.50 227.2 640.67 223.0 640.83 226.8 641.00 232.9 641.17 197.6 641.33 224.7 641.50 218.7 641.67 216.7 641.83 208.1 642.00 209.3 642.17 205.5 642.33 204.5 642.50 251.7 642.67 242.3 642.83 222.3 643.00 231.1 643.17 206.8 643.33 178.0 643.50 193.4 643.67 224.3 643.83 239.9 644.00 222.2 644.17 206.9 644.33 219.1 644.50 207.1 644.67 200.9 644.83 219.4 645.00 216.8 645.17 210.4 645.33 209.4 645.50 208.8 645.67 226.1 645.83 239.6 646.00 220.2 646.17 249.4 646.33 198.7 646.50 226.7 646.67 206.0 646.83 221.2 647.00 224.8 647.17 230.1 647.33 236.6 647.50 215.5 647.67 205.4 647.83 221.1 648.00 227.2 648.17 213.7 648.33 234.0 648.50 242.9 648.67 203.5 648.83 228.1 649.00 235.4 649.17 196.8 649.33 226.5 649.50 221.1 649.67 204.3 649.83 238.8 650.00 226.7 650.17 217.8 650.33 229.3 650.50 231.5 650.67 232.9 650.83 230.8 651.00 229.0 651.17 208.8 651.33 219.0 651.50 226.1 651.67 188.1 651.83 247.5 652.00 219.8 652.17 211.1 652.33 201.3 652.50 227.6 652.67 225.3 652.83 217.5 653.00 219.7 653.17 213.7 653.33 215.5 653.50 223.9 653.67 217.0 653.83 232.4 654.00 223.5 654.17 226.7 654.33 229.6 654.50 238.6 654.67 231.7 654.83 227.9 655.00 223.5 655.17 215.4 655.33 221.3 655.50 232.7 655.67 228.0 655.83 220.8 656.00 208.9 656.17 206.5 656.33 229.2 656.50 236.4 656.67 229.8 656.83 208.7 657.00 223.4 657.17 228.3 657.33 214.6 657.50 229.7 657.67 223.7 657.83 215.8 658.00 210.7 658.17 234.5 658.33 229.9 658.50 215.3 658.67 213.8 658.83 235.4 659.00 232.5 659.17 222.8 659.33 242.5 659.50 223.0 659.67 213.6 659.83 237.6 660.00 224.4 660.17 230.2 660.33 227.2 660.50 214.5 660.67 212.3 660.83 224.6 661.00 240.8 661.17 214.7 661.33 240.3 661.50 229.2 661.67 213.4 661.83 229.7 662.00 232.6 662.17 216.1 662.33 201.2 662.50 230.6 662.67 213.7 662.83 231.4 663.00 204.1 663.17 225.5 663.33 217.5 663.50 209.4 663.67 224.3 663.83 228.9 664.00 220.6 664.17 213.2 664.33 229.3 664.50 206.5 664.67 232.3 664.83 231.9 665.00 243.0 665.17 235.6 665.33 230.6 665.50 229.8 665.67 227.6 665.83 211.9 666.00 240.9 666.17 232.3 666.33 224.1 666.50 214.1 666.67 241.1 666.83 232.3 667.00 213.8 667.17 233.6 667.33 244.7 667.50 227.3 667.67 231.2 667.83 222.8 668.00 220.4 668.17 237.2 668.33 255.2 668.50 228.6 668.67 226.2 668.83 234.7 669.00 224.2 669.17 234.1 669.33 235.0 669.50 216.3 669.67 215.7 669.83 226.9 670.00 235.0 670.17 230.2 670.33 238.6 670.50 212.5 670.67 232.1 670.83 220.9 671.00 228.7 671.17 230.6 671.33 217.2 671.50 225.3 671.67 215.1 671.83 230.1 672.00 218.6 672.17 222.5 672.33 229.8 672.50 220.8 672.67 237.7 672.83 221.1 673.00 235.1 673.17 230.3 673.33 216.9 673.50 225.7 673.67 219.1 673.83 224.1 674.00 225.1 674.17 243.0 674.33 223.5 674.50 240.7 674.67 231.5 674.83 214.2 675.00 203.9 675.17 233.2 675.33 207.3 675.50 233.4 675.67 235.8 675.83 230.7 676.00 225.5 676.17 225.0 676.33 229.6 676.50 224.5 676.67 222.2 676.83 223.8 677.00 236.4 677.17 221.3 677.33 230.2 677.50 216.2 677.67 220.4 677.83 214.1 678.00 225.3 678.17 232.3 678.33 229.4 678.50 222.5 678.67 231.6 678.83 223.8 679.00 229.7 679.17 229.0 679.33 230.9 679.50 204.3 679.67 215.0 679.83 232.4 680.00 225.9 680.17 242.5 680.33 224.7 680.50 221.9 680.67 237.0 680.83 230.5 681.00 239.6 681.17 230.1 681.33 224.9 681.50 231.5 681.67 219.8 681.83 222.7 682.00 221.8 682.17 224.6 682.33 231.7 682.50 222.5 682.67 228.7 682.83 222.3 683.00 232.5 683.17 203.1 683.33 224.9 683.50 227.8 683.67 217.5 683.83 233.6 684.00 228.2 684.17 235.5 684.33 233.3 684.50 231.2 684.67 225.5 684.83 217.5 685.00 225.0 685.17 222.9 685.33 228.6 685.50 222.9 685.67 248.1 685.83 213.2 686.00 235.1 686.17 222.9 686.33 224.9 686.50 233.5 686.67 227.1 686.83 216.6 687.00 230.0 687.17 225.4 687.33 209.3 687.50 228.6 687.67 218.0 687.83 220.7 688.00 230.7 688.17 229.4 688.33 224.7 688.50 242.8 688.67 230.3 688.83 222.0 689.00 229.0 689.17 226.3 689.33 208.1 689.50 213.6 689.67 215.3 689.83 242.4 690.00 225.9 690.17 225.1 690.33 222.6 690.50 234.8 690.67 228.2 690.83 240.3 691.00 233.9 691.17 240.1 691.33 227.9 691.50 231.6 691.67 225.9 691.83 228.2 692.00 216.4 692.17 225.5 692.33 223.0 692.50 225.6 692.67 238.3 692.83 232.5 693.00 238.6 693.17 236.5 693.33 237.0 693.50 237.7 693.67 227.9 693.83 236.8 694.00 230.3 694.17 229.2 694.33 239.5 694.50 245.0 694.67 227.3 694.83 242.9 695.00 238.1 695.17 229.2 695.33 236.2 695.50 237.3 695.67 237.8 695.83 234.3 696.00 229.4 696.17 237.6 696.33 242.6 696.50 242.7 696.67 242.6 696.83 245.5 697.00 234.3 697.17 240.4 697.33 243.1 697.50 247.1 697.67 243.2 697.83 245.6 698.00 244.1 698.17 255.2 698.33 231.7 698.50 244.9 698.67 258.8 698.83 247.4 699.00 235.9 699.17 247.9 699.33 239.3 699.50 244.3 699.67 250.0 699.83 258.5 700.00 252.4 700.17 254.0 700.33 256.4 700.50 252.6 700.67 247.0 700.83 252.0 701.00 255.0 701.17 252.1 701.33 250.3 701.50 252.7 701.67 246.5 701.83 249.9 702.00 255.9 702.17 254.8 702.33 257.7 702.50 265.5 702.67 260.2 702.83 258.9 703.00 252.8 703.17 253.6 703.33 262.3 703.50 255.4 703.67 263.2 703.83 254.8 704.00 262.2 704.17 261.3 704.33 267.5 704.50 260.0 704.67 260.4 704.83 264.3 705.00 263.5 705.17 272.9 705.33 262.2 705.50 260.8 705.67 262.4 705.83 267.3 706.00 266.3 706.17 269.2 706.33 257.0 706.50 280.0 706.67 276.7 706.83 266.3 707.00 259.2 707.17 267.9 707.33 269.7 707.50 253.6 707.67 268.0 707.83 258.9 708.00 271.2 708.17 276.9 708.33 275.2 708.50 259.8 708.67 277.9 708.83 275.4 709.00 268.0 709.17 273.6 709.33 279.9 709.50 269.0 709.67 271.3 709.83 268.0 710.00 278.8 710.17 258.2 710.33 280.7 710.50 266.3 710.67 278.3 710.83 262.5 711.00 267.2 711.17 269.6 711.33 278.6 711.50 263.5 711.67 277.7 711.83 270.3 712.00 281.8 712.17 272.8 712.33 277.9 712.50 274.2 712.67 285.9 712.83 273.4 713.00 275.8 713.17 287.6 713.33 276.8 713.50 280.6 713.67 272.2 713.83 278.2 714.00 263.1 714.17 278.1 714.33 273.7 714.50 268.6 714.67 269.4 714.83 284.9 715.00 281.1 715.17 269.5 715.33 289.4 715.50 275.0 715.67 277.3 715.83 281.2 716.00 273.0 716.17 270.2 716.33 275.7 716.50 287.1 716.67 285.9 716.83 271.0 717.00 287.6 717.17 281.2 717.33 283.9 717.50 281.6 717.67 283.7 717.83 275.5 718.00 276.2 718.17 277.6 718.33 279.8 718.50 285.6 718.67 275.0 718.83 291.2 719.00 278.8 719.17 279.2 719.33 286.8 719.50 285.4 719.67 281.2 719.83 276.9 720.00 277.5 720.17 274.1 720.33 290.0 720.50 289.8 720.67 294.2 720.83 286.9 721.00 286.1 721.17 288.6 721.33 289.8 721.50 283.3 721.67 286.8 721.83 296.7 722.00 275.3 722.17 277.1 722.33 279.9 722.50 289.7 722.67 292.1 722.83 283.8 723.00 289.5 723.17 285.7 723.33 287.7 723.50 283.0 723.67 286.1 723.83 286.3 724.00 292.4 724.17 298.3 724.33 276.1 724.50 289.5 724.67 286.7 724.83 291.9 725.00 292.5 725.17 291.1 725.33 291.3 725.50 281.7 725.67 277.5 725.83 296.1 726.00 293.7 726.17 282.1 726.33 294.3 726.50 291.1 726.67 273.9 726.83 292.5 727.00 282.4 727.17 294.0 727.33 284.3 727.50 284.0 727.67 279.6 727.83 287.1 728.00 293.7 728.17 284.8 728.33 278.2 728.50 299.7 728.67 298.2 728.83 292.4 729.00 286.0 729.17 282.2 729.33 279.9 729.50 291.9 729.67 295.8 729.83 283.1 730.00 289.1 730.17 287.6 730.33 287.7 730.50 291.8 730.67 300.2 730.83 285.7 731.00 293.8 731.17 295.1 731.33 287.7 731.50 288.5 731.67 281.7 731.83 295.2 732.00 286.4 732.17 285.7 732.33 289.9 732.50 284.6 732.67 283.5 732.83 287.9 733.00 297.7 733.17 288.5 733.33 292.6 733.50 281.1 733.67 278.3 733.83 299.7 734.00 287.5 734.17 280.7 734.33 289.3 734.50 293.3 734.67 279.6 734.83 284.7 735.00 291.5 735.17 284.5 735.33 294.5 735.50 295.5 735.67 292.6 735.83 287.6 736.00 289.9 736.17 286.4 736.33 289.4 736.50 291.9 736.67 288.4 736.83 295.4 737.00 304.1 737.17 287.0 737.33 292.0 737.50 294.5 737.67 293.6 737.83 288.8 738.00 287.5 738.17 295.4 738.33 293.4 738.50 292.8 738.67 285.7 738.83 293.4 739.00 294.2 739.17 289.2 739.33 293.4 739.50 301.0 739.67 280.1 739.83 293.2 740.00 283.9 740.17 282.9 740.33 288.9 740.50 292.8 740.67 290.4 740.83 284.1 741.00 282.8 741.17 287.3 741.33 290.3 741.50 286.0 741.67 282.6 741.83 298.3 742.00 286.0 742.17 289.3 742.33 287.3 742.50 287.0 742.67 290.1 742.83 288.3 743.00 292.6 743.17 283.6 743.33 282.0 743.50 298.5 743.67 289.0 743.83 292.9 744.00 294.7 744.17 291.7 744.33 289.2 744.50 281.0 744.67 280.7 744.83 293.4 745.00 291.9 745.17 291.3 745.33 280.0 745.50 277.5 745.67 283.0 745.83 282.2 746.00 289.0 746.17 282.9 746.33 295.6 746.50 284.8 746.67 285.0 746.83 291.9 747.00 289.3 747.17 283.0 747.33 291.5 747.50 296.7 747.67 281.0 747.83 286.0 748.00 281.6 748.17 276.9 748.33 290.1 748.50 290.4 748.67 291.6 748.83 288.7 749.00 275.8 749.17 286.1 749.33 282.5 749.50 279.6 749.67 279.8 749.83 289.1 750.00 283.7 750.17 294.5 750.33 287.1 750.50 274.6 750.67 288.7 750.83 290.2 751.00 284.2 751.17 277.4 751.33 292.1 751.50 276.5 751.67 282.7 751.83 272.9 752.00 276.2 752.17 273.6 752.33 287.6 752.50 287.8 752.67 279.8 752.83 274.6 753.00 281.2 753.17 283.2 753.33 273.1 753.50 274.8 753.67 280.2 753.83 283.9 754.00 280.7 754.17 282.3 754.33 273.4 754.50 266.6 754.67 281.0 754.83 274.5 755.00 278.4 755.17 277.1 755.33 281.3 755.50 274.9 755.67 285.9 755.83 279.1 756.00 281.5 756.17 281.9 756.33 283.8 756.50 280.8 756.67 269.6 756.83 275.4 757.00 287.7 757.17 281.0 757.33 281.4 757.50 280.9 757.67 275.2 757.83 275.0 758.00 275.1 758.17 284.1 758.33 280.3 758.50 287.1 758.67 280.8 758.83 287.6 759.00 280.6 759.17 272.0 759.33 286.8 759.50 279.9 759.67 284.0 759.83 279.3 760.00 276.4 760.17 279.0 760.33 272.1 760.50 271.7 760.67 273.3 760.83 275.2 761.00 270.7 761.17 277.4 761.33 279.4 761.50 287.8 761.67 286.9 761.83 277.4 762.00 281.9 762.17 276.2 762.33 279.2 762.50 277.0 762.67 274.1 762.83 277.3 763.00 268.6 763.17 278.8 763.33 274.9 763.50 270.3 763.67 274.2 763.83 278.9 764.00 272.1 764.17 278.2 764.33 278.6 764.50 283.6 764.67 269.2 764.83 274.6 765.00 277.8 765.17 282.8 765.33 276.2 765.50 278.7 765.67 266.1 765.83 271.1 766.00 283.1 766.17 272.5 766.33 285.5 766.50 269.6 766.67 272.1 766.83 264.2 767.00 276.9 767.17 274.8 767.33 284.1 767.50 274.0 767.67 271.4 767.83 264.4 768.00 272.2 768.17 277.9 768.33 276.9 768.50 279.6 768.67 277.7 768.83 272.8 769.00 276.5 769.17 274.2 769.33 265.6 769.50 282.7 769.67 275.6 769.83 267.5 770.00 275.8 770.17 275.4 770.33 279.3 770.50 281.7 770.67 256.6 770.83 277.2 771.00 282.4 771.17 269.0 771.33 263.9 771.50 276.1 771.67 276.5 771.83 276.7 772.00 268.6 772.17 272.4 772.33 276.1 772.50 279.1 772.67 286.6 772.83 276.9 773.00 272.1 773.17 262.4 773.33 281.2 773.50 275.0 773.67 275.3 773.83 270.5 774.00 279.8 774.17 266.3 774.33 276.8 774.50 277.0 774.67 278.0 774.83 283.4 775.00 276.4 775.17 277.7 775.33 282.0 775.50 268.9 775.67 276.3 775.83 278.6 776.00 283.6 776.17 274.0 776.33 283.4 776.50 281.3 776.67 270.5 776.83 270.7 777.00 271.1 777.17 281.0 777.33 281.6 777.50 284.9 777.67 285.7 777.83 277.7 778.00 287.7 778.17 286.5 778.33 284.7 778.50 285.0 778.67 273.9 778.83 284.9 779.00 276.0 779.17 275.1 779.33 281.0 779.50 284.5 779.67 283.5 779.83 281.8 780.00 277.4 780.17 285.8 780.33 279.6 780.50 275.1 780.67 286.0 780.83 295.2 781.00 282.9 781.17 278.1 781.33 295.0 781.50 297.2 781.67 283.6 781.83 284.2 782.00 287.1 782.17 305.5 782.33 286.5 782.50 292.3 782.67 288.6 782.83 272.0 783.00 277.3 783.17 276.3 783.33 288.4 783.50 286.1 783.67 297.7 783.83 283.3 784.00 287.4 784.17 285.8 784.33 286.2 784.50 301.3 784.67 287.2 784.83 295.4 785.00 294.2 785.17 280.5 785.33 289.9 785.50 282.1 785.67 285.8 785.83 286.1 786.00 285.1 786.17 281.3 786.33 295.9 786.50 282.8 786.67 289.8 786.83 296.8 787.00 289.2 787.17 292.1 787.33 294.7 787.50 292.5 787.67 297.2 787.83 273.6 788.00 299.6 788.17 285.8 788.33 271.2 788.50 280.7 788.67 274.4 788.83 286.6 789.00 273.8 789.17 278.3 789.33 289.8 789.50 289.1 789.67 280.7 789.83 286.2 790.00 287.8 790.17 289.6 790.33 289.2 790.50 287.4 790.67 296.8 790.83 273.7 791.00 285.3 791.17 291.8 791.33 286.7 791.50 285.3 791.67 286.8 791.83 293.5 792.00 302.4 792.17 290.3 792.33 289.6 792.50 295.9 792.67 290.4 792.83 270.9 793.00 296.1 793.17 289.6 793.33 287.5 793.50 300.1 793.67 295.3 793.83 288.1 794.00 268.3 794.17 274.1 794.33 295.6 794.50 294.2 794.67 299.6 794.83 297.8 795.00 290.1 795.17 280.5 795.33 282.7 795.50 294.7 795.67 282.3 795.83 303.4 796.00 280.4 796.17 274.8 796.33 294.7 796.50 275.2 796.67 312.0 796.83 285.2 797.00 296.9 797.17 294.7 797.33 287.7 797.50 276.1 797.67 275.1 797.83 306.2 798.00 307.8 798.17 318.4 798.33 280.5 798.50 304.0 798.67 298.7 798.83 306.9 799.00 292.8 799.17 306.0 799.33 307.8 799.50 305.2 799.67 313.3 799.83 297.6 800.00 314.5 800.17 291.4 800.33 316.0 800.50 266.3 800.67 300.6 800.83 290.7 801.00 300.7 801.17 310.8 801.33 307.9 801.50 302.0 801.67 317.7 801.83 283.1 802.00 291.4 802.17 316.2 802.33 304.8 802.50 276.1 802.67 305.1 802.83 287.3 803.00 316.2 803.17 313.1 803.33 295.3 803.50 314.6 803.67 292.0 803.83 311.1 804.00 307.9 804.17 300.9 804.33 285.1 804.50 299.1 804.67 274.7 804.83 295.8 805.00 280.2 805.17 314.5 805.33 291.2 805.50 273.4 805.67 308.6 805.83 306.6 806.00 297.0 806.17 323.5 806.33 310.7 806.50 304.0 806.67 295.7 806.83 267.9 807.00 308.2 807.17 312.8 807.33 296.6 807.50 286.8 807.67 303.4 807.83 283.9 808.00 304.1 808.17 311.4 808.33 318.4 808.50 306.7 808.67 306.2 808.83 311.4 809.00 317.6 809.17 300.7 809.33 290.0 809.50 295.3 809.67 289.8 809.83 294.3 810.00 303.4 810.17 308.2 810.33 306.5 810.50 305.8 810.67 301.1 810.83 309.3 811.00 313.6 811.17 312.5 811.33 319.2 811.50 302.7 811.67 303.3 811.83 321.0 812.00 308.1 812.17 310.0 812.33 302.9 812.50 315.0 812.67 302.5 812.83 296.2 813.00 306.5 813.17 302.6 813.33 314.2 813.50 303.6 813.67 308.7 813.83 305.6 814.00 310.6 814.17 301.6 814.33 316.8 814.50 294.0 814.67 304.6 814.83 301.6 815.00 313.6 815.17 309.1 815.33 312.6 815.50 305.9 815.67 302.4 815.83 298.8 816.00 306.4 816.17 304.6 816.33 311.7 816.50 312.4 816.67 316.7 816.83 309.2 817.00 303.6 817.17 301.0 817.33 311.0 817.50 313.0 817.67 323.3 817.83 312.1 818.00 322.2 818.17 322.9 818.33 302.5 818.50 318.9 818.67 318.5 818.83 319.8 819.00 311.7 819.17 317.6 819.33 307.9 819.50 311.4 819.67 312.2 819.83 322.8 820.00 310.4 820.17 318.0 820.33 312.7 820.50 306.4 820.67 313.9 820.83 316.5 821.00 306.5 821.17 316.5 821.33 306.6 821.50 305.3 821.67 314.2 821.83 310.9 822.00 304.5 822.17 299.0 822.33 313.3 822.50 314.6 822.67 309.3 822.83 314.4 823.00 300.1 823.17 315.8 823.33 316.0 823.50 315.3 823.67 308.3 823.83 314.2 824.00 314.6 824.17 320.3 824.33 315.6 824.50 315.5 824.67 307.6 824.83 319.3 825.00 321.2 825.17 309.8 825.33 318.1 825.50 316.2 825.67 314.0 825.83 302.9 826.00 325.1 826.17 297.7 826.33 316.5 826.50 311.4 826.67 321.7 826.83 311.1 827.00 315.2 827.17 318.6 827.33 317.7 827.50 310.3 827.67 319.0 827.83 317.2 828.00 320.7 828.17 310.3 828.33 314.5 828.50 311.4 828.67 307.5 828.83 316.3 829.00 317.2 829.17 323.0 829.33 312.0 829.50 317.0 829.67 321.3 829.83 313.8 830.00 315.1 830.17 315.5 830.33 308.9 830.50 306.4 830.67 321.0 830.83 315.6 831.00 314.0 831.17 304.3 831.33 315.2 831.50 321.2 831.67 305.2 831.83 307.3 832.00 320.7 832.17 322.5 832.33 323.2 832.50 310.1 832.67 317.8 832.83 308.5 833.00 317.3 833.17 311.5 833.33 315.5 833.50 321.8 833.67 316.2 833.83 312.5 834.00 314.6 834.17 315.8 834.33 310.4 834.50 315.4 834.67 317.5 834.83 322.7 835.00 298.9 835.17 305.4 835.33 305.1 835.50 318.9 835.67 327.3 835.83 315.4 836.00 315.0 836.17 320.5 836.33 296.7 836.50 313.2 836.67 292.0 836.83 315.5 837.00 311.0 837.17 311.3 837.33 316.6 837.50 310.7 837.67 320.7 837.83 314.9 838.00 317.0 838.17 328.1 838.33 311.9 838.50 319.9 838.67 309.4 838.83 321.6 839.00 320.2 839.17 316.0 839.33 320.4 839.50 323.6 839.67 322.4 839.83 315.5 840.00 315.2 840.17 321.2 840.33 305.6 840.50 311.6 840.67 318.2 840.83 318.6 841.00 325.1 841.17 324.6 841.33 317.6 841.50 318.2 841.67 307.2 841.83 314.9 842.00 317.4 842.17 314.7 842.33 316.5 842.50 319.2 842.67 310.0 842.83 312.6 843.00 304.7 843.17 322.0 843.33 309.6 843.50 305.5 843.67 320.3 843.83 315.3 844.00 321.4 844.17 314.4 844.33 327.0 844.50 320.4 844.67 317.7 844.83 317.6 845.00 315.7 845.17 321.1 845.33 326.9 845.50 314.4 845.67 310.0 845.83 320.3 846.00 322.7 846.17 307.4 846.33 312.9 846.50 310.8 846.67 320.5 846.83 320.2 847.00 312.8 847.17 310.1 847.33 321.3 847.50 303.8 847.67 321.2 847.83 317.0 848.00 327.8 848.17 323.2 848.33 314.2 848.50 316.4 848.67 316.4 848.83 313.3 849.00 318.9 849.17 323.5 849.33 307.9 849.50 317.0 849.67 326.4 849.83 322.6 850.00 313.0 850.17 313.1 850.33 312.8 850.50 307.5 850.67 325.1 850.83 319.5 851.00 314.1 851.17 308.8 851.33 316.5 851.50 315.6 851.67 328.5 851.83 316.1 852.00 320.1 852.17 325.4 852.33 323.6 852.50 318.9 852.67 304.6 852.83 328.2 853.00 324.2 853.17 318.1 853.33 320.9 853.50 314.8 853.67 315.4 853.83 311.4 854.00 325.2 854.17 325.5 854.33 323.9 854.50 327.4 854.67 326.3 854.83 324.4 855.00 317.6 855.17 327.4 855.33 330.8 855.50 328.1 855.67 331.6 855.83 321.8 856.00 318.4 856.17 332.4 856.33 321.6 856.50 327.4 856.67 324.9 856.83 326.7 857.00 324.8 857.17 323.0 857.33 313.9 857.50 337.8 857.67 328.7 857.83 313.4 858.00 321.2 858.17 319.8 858.33 322.9 858.50 309.4 858.67 332.1 858.83 338.2 859.00 327.5 859.17 333.7 859.33 333.1 859.50 320.4 859.67 337.0 859.83 317.4 860.00 326.2 860.17 328.0 860.33 338.1 860.50 332.0 860.67 330.6 860.83 325.6 861.00 332.6 861.17 332.6 861.33 336.7 861.50 340.7 861.67 337.3 861.83 333.5 862.00 332.5 862.17 343.0 862.33 335.3 862.50 334.3 862.67 344.8 862.83 343.8 863.00 338.4 863.17 334.6 863.33 330.8 863.50 342.0 863.67 332.6 863.83 341.7 864.00 330.4 864.17 337.2 864.33 339.0 864.50 337.7 864.67 338.3 864.83 339.3 865.00 328.8 865.17 329.1 865.33 336.5 865.50 347.7 865.67 337.0 865.83 331.1 866.00 333.3 866.17 338.6 866.33 345.0 866.50 334.5 866.67 341.9 866.83 340.0 867.00 336.5 867.17 332.3 867.33 338.3 867.50 334.3 867.67 342.6 867.83 327.0 868.00 346.0 868.17 344.2 868.33 343.4 868.50 348.4 868.67 344.0 868.83 329.0 869.00 341.7 869.17 344.1 869.33 337.4 869.50 334.7 869.67 344.9 869.83 345.6 870.00 340.5 870.17 342.1 870.33 340.7 870.50 340.7 870.67 344.3 870.83 349.9 871.00 335.2 871.17 343.5 871.33 353.2 871.50 347.7 871.67 347.3 871.83 350.5 872.00 341.3 872.17 340.5 872.33 338.3 872.50 339.9 872.67 349.5 872.83 352.3 873.00 346.8 873.17 345.8 873.33 351.4 873.50 352.5 873.67 351.4 873.83 340.9 874.00 348.3 874.17 338.6 874.33 352.6 874.50 347.8 874.67 349.2 874.83 357.9 875.00 357.4 875.17 354.6 875.33 354.1 875.50 353.9 875.67 350.5 875.83 353.3 876.00 360.8 876.17 349.5 876.33 350.7 876.50 354.9 876.67 357.8 876.83 357.7 877.00 349.7 877.17 354.2 877.33 353.7 877.50 348.7 877.67 355.7 877.83 353.0 878.00 359.4 878.17 357.6 878.33 351.8 878.50 356.6 878.67 354.4 878.83 353.0 879.00 354.0 879.17 361.3 879.33 354.7 879.50 347.4 879.67 353.0 879.83 361.0 880.00 366.9 880.17 351.7 880.33 356.0 880.50 356.3 880.67 350.0 880.83 360.3 881.00 358.4 881.17 360.3 881.33 369.0 881.50 358.1 881.67 363.3 881.83 363.8 882.00 356.8 882.17 357.4 882.33 367.7 882.50 364.4 882.67 362.3 882.83 355.9 883.00 366.0 883.17 364.8 883.33 371.8 883.50 369.2 883.67 366.8 883.83 364.9 884.00 364.4 884.17 361.5 884.33 366.0 884.50 366.0 884.67 367.9 884.83 369.8 885.00 367.1 885.17 363.4 885.33 369.6 885.50 372.7 885.67 362.9 885.83 369.0 886.00 369.8 886.17 370.0 886.33 370.2 886.50 368.2 886.67 368.4 886.83 375.3 887.00 375.7 887.17 363.1 887.33 357.9 887.50 371.9 887.67 367.4 887.83 368.4 888.00 363.5 888.17 372.7 888.33 371.5 888.50 369.4 888.67 375.4 888.83 381.0 889.00 378.0 889.17 377.2 889.33 371.4 889.50 375.9 889.67 373.7 889.83 378.2 890.00 376.4 890.17 374.5 890.33 376.9 890.50 371.7 890.67 378.2 890.83 381.0 891.00 374.3 891.17 378.2 891.33 368.5 891.50 380.1 891.67 380.1 891.83 372.4 892.00 383.7 892.17 378.3 892.33 369.8 892.50 371.8 892.67 381.7 892.83 377.6 893.00 383.1 893.17 372.0 893.33 379.3 893.50 383.4 893.67 377.2 893.83 383.2 894.00 379.5 894.17 382.9 894.33 383.2 894.50 390.3 894.67 377.0 894.83 386.1 895.00 388.3 895.17 378.8 895.33 384.9 895.50 393.1 895.67 389.1 895.83 371.6 896.00 385.1 896.17 378.4 896.33 388.1 896.50 384.0 896.67 385.2 896.83 384.3 897.00 389.8 897.17 386.9 897.33 385.2 897.50 388.9 897.67 391.8 897.83 386.7 898.00 395.1 898.17 383.7 898.33 393.5 898.50 390.6 898.67 398.4 898.83 390.2 899.00 390.5 899.17 387.6 899.33 401.4 899.50 397.1 899.67 390.1 899.83 394.1 900.00 391.5 900.17 401.8 900.33 398.4 900.50 387.5 900.67 398.4 900.83 401.3 901.00 398.5 901.17 400.6 901.33 398.8 901.50 400.4 901.67 400.8 901.83 397.1 902.00 402.1 902.17 401.9 902.33 401.5 902.50 398.8 902.67 397.6 902.83 403.8 903.00 406.2 903.17 392.1 903.33 401.5 903.50 409.2 903.67 408.1 903.83 401.9 904.00 410.4 904.17 401.4 904.33 402.7 904.50 413.7 904.67 405.2 904.83 406.7 905.00 400.4 905.17 403.9 905.33 403.6 905.50 408.9 905.67 401.6 905.83 414.0 906.00 409.3 906.17 408.7 906.33 409.0 906.50 414.7 906.67 417.6 906.83 411.5 907.00 418.7 907.17 419.1 907.33 418.7 907.50 416.0 907.67 409.4 907.83 418.0 908.00 414.8 908.17 417.5 908.33 409.9 908.50 416.7 908.67 418.9 908.83 415.1 909.00 420.0 909.17 424.2 909.33 420.7 909.50 418.0 909.67 427.3 909.83 413.6 910.00 418.4 910.17 423.2 910.33 420.2 910.50 414.0 910.67 423.9 910.83 425.8 911.00 420.7 911.17 428.4 911.33 426.0 911.50 428.4 911.67 418.9 911.83 425.5 912.00 430.8 912.17 432.5 912.33 430.7 912.50 426.9 912.67 427.8 912.83 424.8 913.00 431.6 913.17 425.1 913.33 429.0 913.50 419.3 913.67 422.2 913.83 435.8 914.00 430.2 914.17 431.4 914.33 420.7 914.50 431.8 914.67 439.9 914.83 426.1 915.00 422.5 915.17 433.9 915.33 432.8 915.50 435.0 915.67 430.6 915.83 430.8 916.00 432.0 916.17 440.9 916.33 439.1 916.50 442.9 916.67 435.4 916.83 443.2 917.00 439.6 917.17 442.6 917.33 446.1 917.50 443.5 917.67 442.3 917.83 436.5 918.00 445.3 918.17 448.4 918.33 443.2 918.50 446.5 918.67 438.8 918.83 441.5 919.00 449.9 919.17 453.6 919.33 448.1 919.50 442.0 919.67 448.8 919.83 443.6 920.00 450.4 920.17 459.1 920.33 453.9 920.50 452.6 920.67 457.5 920.83 452.6 921.00 456.1 921.17 456.2 921.33 457.6 921.50 449.4 921.67 459.6 921.83 460.8 922.00 447.1 922.17 445.5 922.33 454.6 922.50 464.6 922.67 459.7 922.83 462.4 923.00 462.3 923.17 463.8 923.33 457.9 923.50 458.5 923.67 463.1 923.83 464.2 924.00 464.5 924.17 464.0 924.33 460.8 924.50 467.4 924.67 465.5 924.83 467.9 925.00 452.1 925.17 468.4 925.33 453.4 925.50 466.6 925.67 463.2 925.83 467.4 926.00 465.2 926.17 466.6 926.33 469.4 926.50 470.5 926.67 465.9 926.83 458.1 927.00 467.1 927.17 473.4 927.33 468.0 927.50 474.2 927.67 471.4 927.83 469.2 928.00 478.4 928.17 480.7 928.33 474.8 928.50 475.6 928.67 479.8 928.83 470.5 929.00 473.2 929.17 482.0 929.33 481.7 929.50 476.6 929.67 475.8 929.83 481.4 930.00 473.8 930.17 478.7 930.33 480.6 930.50 470.2 930.67 484.9 930.83 486.0 931.00 487.5 931.17 477.1 931.33 478.3 931.50 481.0 931.67 479.0 931.83 493.1 932.00 481.4 932.17 485.0 932.33 487.7 932.50 489.0 932.67 492.9 932.83 482.8 933.00 491.7 933.17 489.5 933.33 483.6 933.50 490.3 933.67 483.3 933.83 496.4 934.00 487.4 934.17 495.1 934.33 496.7 934.50 489.6 934.67 488.7 934.83 494.2 935.00 489.1 935.17 498.0 935.33 495.9 935.50 492.1 935.67 493.0 935.83 499.5 936.00 490.3 936.17 504.0 936.33 494.7 936.50 498.1 936.67 495.1 936.83 505.9 937.00 503.6 937.17 505.8 937.33 503.9 937.50 502.3 937.67 508.4 937.83 505.1 938.00 504.7 938.17 505.6 938.33 506.6 938.50 505.3 938.67 503.9 938.83 497.2 939.00 512.9 939.17 499.5 939.33 495.7 939.50 503.2 939.67 514.0 939.83 511.8 940.00 504.9 940.17 509.2 940.33 508.5 940.50 499.3 940.67 507.8 940.83 510.9 941.00 514.4 941.17 504.7 941.33 499.9 941.50 503.7 941.67 513.1 941.83 512.6 942.00 513.2 942.17 513.6 942.33 511.7 942.50 507.1 942.67 515.9 942.83 516.1 943.00 517.2 943.17 520.0 943.33 509.8 943.50 504.8 943.67 507.9 943.83 524.8 944.00 513.0 944.17 519.4 944.33 518.3 944.50 521.4 944.67 530.7 944.83 516.9 945.00 518.9 945.17 517.1 945.33 521.2 945.50 522.5 945.67 516.2 945.83 526.0 946.00 525.7 946.17 523.5 946.33 521.6 946.50 521.3 946.67 514.7 946.83 525.5 947.00 518.6 947.17 521.2 947.33 527.6 947.50 519.8 947.67 522.1 947.83 528.0 948.00 531.9 948.17 522.2 948.33 529.8 948.50 523.1 948.67 528.0 948.83 528.7 949.00 522.5 949.17 531.1 949.33 533.7 949.50 528.9 949.67 529.9 949.83 525.3 950.00 534.6 950.17 530.6 950.33 526.7 950.50 533.0 950.67 527.4 950.83 530.2 951.00 526.5 951.17 536.3 951.33 538.6 951.50 532.5 951.67 533.0 951.83 533.7 952.00 534.3 952.17 540.3 952.33 547.4 952.50 535.9 952.67 548.9 952.83 529.5 953.00 564.3 953.50 542.0 953.50 569.0 954.50 569.0 954.50 604.0 955.50 604.0 955.50 625.0 956.50 625.0 956.50 553.0M190.5 116V129M604.5 115V162" stroke="#9400d3" stroke-width="1" fill="none" shape-rendering="crispEdges"/>
</svg>
</body></html>
